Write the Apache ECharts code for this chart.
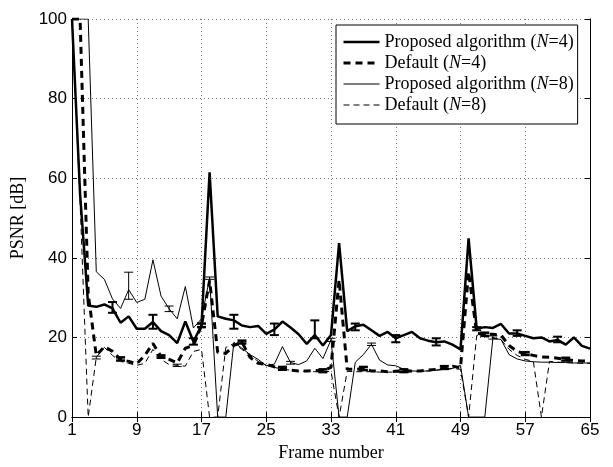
<!DOCTYPE html>
<html>
<head>
<meta charset="utf-8">
<script src="https://cdn.jsdelivr.net/npm/echarts@6/dist/echarts.min.js"></script>
<style>
  html, body { margin: 0; padding: 0; background: #fff; }
  #chart { width: 613px; height: 467px; }
</style>
</head>
<body>
<div id="chart"></div>
<script>
// frame numbers 1..65
var frames = [];
for (var f = 1; f <= 65; f++) frames.push(f);

// Proposed algorithm (N=4) - thick solid
var proposed4 = [100, 56, 28, 27.7, 28.3, 27.3, 23.7, 25.3, 22.2, 22.2,
  23.9, 21.6, 20.6, 18.6, 24.0, 19.0, 23.0, 61.5, 25.3, 24.7,
  24.3, 23.0, 22.6, 22.9, 20.9, 22.0, 24.0, 22.5, 20.8, 18.4,
  20.6, 18.0, 20.6, 43.7, 21.6, 22.8, 23.2, 21.8, 20.4, 21.4,
  19.8, 20.6, 21.4, 19.8, 19.2, 18.8, 19.0, 18.2, 17.0, 44.9,
  22.2, 22.6, 22.4, 23.4, 21.0, 21.0, 20.4, 19.8, 20.0, 19.0,
  19.4, 18.2, 20.0, 17.9, 17.2];

// Default (N=4) - thick dashed
var default4 = [100, 100, 31, 15.5, 17.7, 16.5, 14.5, 14.0, 13.4, 15.5,
  18.5, 15.2, 14.5, 13.6, 17.3, 18.0, 23.0, 34.3, 16.3, 16.0,
  18.0, 18.8, 15.0, 13.5, 13.3, 12.6, 12.2, 11.8, 11.6, 11.6,
  11.7, 11.6, 12.5, 34.5, 12.0, 12.0, 12.2, 11.6, 11.6, 11.4,
  11.5, 11.6, 11.6, 11.6, 11.8, 12.0, 12.4, 12.8, 12.4, 36.5,
  21.0, 20.8, 20.8, 20.6, 18.0, 16.5, 15.9, 15.5, 15.1, 15.0,
  14.8, 14.5, 14.2, 14.1, 14.0];

// Proposed algorithm (N=8) - thin solid
var proposed8 = [100, 100, 100, 36.5, 34.6, 29.7, 27.3, 32.0, 28.8, 29.6,
  39.5, 30.4, 27.2, 24.7, 32.8, 22.4, 24.7, 34.9, 0, 0,
  18.8, 17.3, 15.7, 14.5, 12.9, 13.3, 17.7, 13.7, 13.2, 14.1,
  17.3, 14.7, 19.4, 0, 0, 13.8, 15.7, 18.3, 14.3, 13.1,
  12.9, 12.0, 11.6, 11.5, 11.6, 11.8, 12.0, 12.2, 13.0, 0,
  0, 0, 19.8, 19.5, 15.7, 14.6, 14.1, 13.9, 13.8, 13.8,
  13.7, 13.7, 13.6, 13.6, 13.6];

// Default (N=8) - thin dashed
var default8 = [100, 54, 0, 15.0, 17.5, 15.5, 14.0, 13.5, 13.0, 13.5,
  17.0, 14.5, 13.2, 13.0, 12.8, 16.5, 17.0, 0, 0, 17.5,
  18.5, 17.0, 15.5, 14.0, 13.0, 12.5, 12.0, 11.8, 11.5, 11.5,
  11.4, 11.4, 11.5, 0, 11.5, 11.4, 11.4, 11.4, 11.3, 11.3,
  11.3, 11.3, 11.4, 11.5, 11.6, 11.8, 12.0, 12.2, 12.0, 0,
  20.5, 20.2, 20.0, 19.5, 17.0, 15.5, 14.5, 14.0, 0, 14.0,
  13.8, 13.7, 13.6, 13.5, 13.5];

// error bars: [frame, low, high]
var errProposed4 = [[6, 26.2, 28.9], [11, 22.2, 25.7], [16, 18.2, 19.8], [21, 22.2, 25.7],
  [26, 20.6, 23.5], [31, 19.8, 24.3], [36, 21.8, 23.5], [41, 18.8, 20.6],
  [46, 18.0, 19.8], [51, 21.8, 22.6], [56, 20.4, 21.8], [61, 18.8, 20.2]];
var errDefault4 = [[7, 14.2, 15.0], [12, 14.9, 15.5], [17, 22.6, 23.5], [22, 18.5, 19.2],
  [27, 11.9, 12.6], [32, 11.3, 12.0], [37, 11.8, 12.6], [42, 11.3, 12.0],
  [47, 12.1, 12.8], [52, 20.4, 21.2], [57, 15.6, 16.3], [62, 14.2, 14.9]];
var errProposed8 = [[8, 29.6, 36.4], [13, 26.5, 27.9], [18, 34.6, 35.2], [28, 13.3, 14.0],
  [33, 19.0, 19.8], [38, 18.0, 18.6], [53, 19.6, 20.4]];
var errDefault8 = [[4, 14.6, 15.3], [14, 12.7, 13.3]];

var seriesNames = ['Proposed algorithm (N=4)', 'Default (N=4)', 'Proposed algorithm (N=8)', 'Default (N=8)'];

var serif = '"Liberation Serif", "DejaVu Serif", serif';
var sans = '"Liberation Sans", Arial, sans-serif';

function pairs(vals) {
  return frames.map(function (x, i) { return [x, vals[i]]; });
}

function errRender(lw, cap) {
  return function (params, api) {
    var x = api.value(0);
    var lo = api.coord([x, api.value(1)]);
    var hi = api.coord([x, api.value(2)]);
    var st = { stroke: '#000', lineWidth: lw };
    return {
      type: 'group',
      children: [
        { type: 'line', shape: { x1: lo[0], y1: lo[1], x2: hi[0], y2: hi[1] }, style: st },
        { type: 'line', shape: { x1: lo[0] - cap, y1: lo[1], x2: lo[0] + cap, y2: lo[1] }, style: st },
        { type: 'line', shape: { x1: hi[0] - cap, y1: hi[1], x2: hi[0] + cap, y2: hi[1] }, style: st }
      ]
    };
  };
}

function legendLabel(name) {
  var m = name.match(/^(.*\()N(=\d\))$/);
  return '{t|' + m[1] + '}{i|N}{t|' + m[2] + '}';
}

var chart = echarts.init(document.getElementById('chart'), null, { renderer: 'canvas' });

var axisCommon = {
  axisLine: { show: true, lineStyle: { color: '#000', width: 1 } },
  axisTick: { show: true, inside: true, length: 5, lineStyle: { color: '#000' } }
};

chart.setOption({
  animation: false,
  backgroundColor: '#fff',
  grid: { left: 72, right: 23, top: 19, bottom: 40 },
  legend: {
    orient: 'vertical',
    left: 336,
    top: 25,
    backgroundColor: '#fff',
    borderColor: '#000',
    borderWidth: 1,
    borderRadius: 0,
    padding: [8, 4, 10, 6],
    itemWidth: 36,
    itemHeight: 14,
    itemGap: 3,
    itemStyle: { opacity: 0 },
    data: [
      { name: seriesNames[0], lineStyle: { width: 2.5 } },
      { name: seriesNames[1], lineStyle: { width: 3 } },
      { name: seriesNames[2], lineStyle: { width: 1 } },
      { name: seriesNames[3], lineStyle: { width: 1 } }
    ],
    formatter: legendLabel,
    textStyle: {
      color: '#000',
      rich: {
        t: { fontFamily: serif, fontSize: 18, color: '#000', lineHeight: 17 },
        i: { fontFamily: serif, fontSize: 18, fontStyle: 'italic', color: '#000', lineHeight: 17 }
      }
    }
  },
  xAxis: [
    Object.assign({
      type: 'value', min: 1, max: 65, interval: 8, position: 'bottom',
      name: 'Frame number', nameLocation: 'middle', nameGap: 25,
      nameTextStyle: { fontFamily: serif, fontSize: 18, color: '#000' },
      axisLabel: { fontFamily: sans, fontSize: 17, color: '#000', margin: 5 },
      splitLine: { show: true, lineStyle: { type: [1, 3], color: '#777', width: 1 } }
    }, axisCommon),
    Object.assign({
      type: 'value', min: 1, max: 65, interval: 8, position: 'top',
      axisLabel: { show: false }, splitLine: { show: false }
    }, axisCommon)
  ],
  yAxis: [
    Object.assign({
      type: 'value', min: 0, max: 100, interval: 20, position: 'left',
      name: 'PSNR [dB]', nameLocation: 'middle', nameGap: 36,
      nameTextStyle: { fontFamily: serif, fontSize: 18, color: '#000' },
      axisLabel: { fontFamily: sans, fontSize: 17, color: '#000', margin: 5 },
      splitLine: { show: true, lineStyle: { type: [1, 3], color: '#777', width: 1 } }
    }, axisCommon),
    Object.assign({
      type: 'value', min: 0, max: 100, interval: 20, position: 'right',
      axisLabel: { show: false }, splitLine: { show: false }
    }, axisCommon)
  ],
  series: [
    {
      name: seriesNames[3], type: 'line', data: pairs(default8),
      showSymbol: false, symbol: 'none', z: 2,
      lineStyle: { color: '#000', width: 1, type: [6, 4] }, itemStyle: { color: '#000' }
    },
    {
      name: seriesNames[2], type: 'line', data: pairs(proposed8),
      showSymbol: false, symbol: 'none', z: 3,
      lineStyle: { color: '#000', width: 1 }, itemStyle: { color: '#000' }
    },
    {
      name: seriesNames[1], type: 'line', data: pairs(default4),
      showSymbol: false, symbol: 'none', z: 4,
      lineStyle: { color: '#000', width: 3, type: [7, 5] }, itemStyle: { color: '#000' }
    },
    {
      name: seriesNames[0], type: 'line', data: pairs(proposed4),
      showSymbol: false, symbol: 'none', z: 5,
      lineStyle: { color: '#000', width: 2.5 }, itemStyle: { color: '#000' }
    },
    { name: 'errP4', type: 'custom', data: errProposed4, renderItem: errRender(2, 4.5), clip: true, z: 6 },
    { name: 'errD4', type: 'custom', data: errDefault4, renderItem: errRender(2.5, 4.5), clip: true, z: 6 },
    { name: 'errP8', type: 'custom', data: errProposed8, renderItem: errRender(1, 4.5), clip: true, z: 6 },
    { name: 'errD8', type: 'custom', data: errDefault8, renderItem: errRender(1, 4.5), clip: true, z: 6 }
  ]
});
</script>
</body>
</html>
